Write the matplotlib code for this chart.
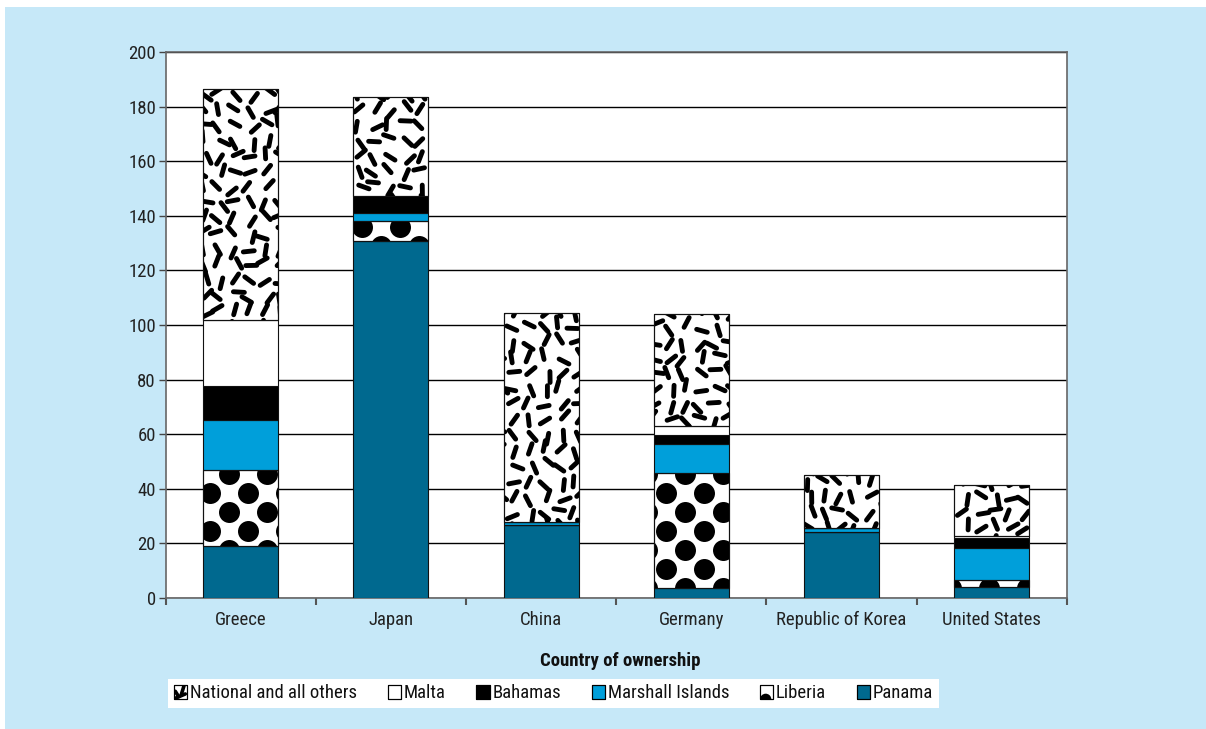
import numpy as np
import matplotlib
matplotlib.use('Agg')
import matplotlib.pyplot as plt
from matplotlib.patches import Rectangle, Circle, Patch
from matplotlib.collections import LineCollection
from matplotlib.legend_handler import HandlerBase
from matplotlib.transforms import Affine2D
from matplotlib.lines import Line2D

plt.rcParams['font.family'] = ['Roboto Condensed', 'Archivo Narrow', 'DejaVu Sans']

# ---------------- data ----------------
categories = ['Greece', 'Japan', 'China', 'Germany', 'Republic of Korea', 'United States']
panama = [18.8, 130.8, 26.8, 3.4, 24.1, 3.9]
liberia = [28.2, 7.5, 0.0, 42.4, 0.0, 2.7]
marshall = [18.0, 2.9, 1.0, 10.7, 1.3, 11.6]
bahamas = [12.8, 6.0, 0.0, 3.3, 0.0, 3.8]
malta = [24.2, 0.0, 0.0, 3.1, 0.0, 0.5]
others = [84.4, 36.5, 76.7, 41.1, 19.7, 18.9]
yticks = [0, 20, 40, 60, 80, 100, 120, 140, 160, 180, 200]
xlabel = 'Country of ownership'

series = [
    ('Panama', panama, '#00698f', None),
    ('Liberia', liberia, 'white', 'dots'),
    ('Marshall Islands', marshall, '#009fda', None),
    ('Bahamas', bahamas, 'black', None),
    ('Malta', malta, 'white', None),
    ('National and all others', others, 'white', 'dash'),
]
legend_order = ['National and all others', 'Malta', 'Bahamas', 'Marshall Islands', 'Liberia', 'Panama']

# ---------------- figure ----------------
W, H = 1206, 729
fig = plt.figure(figsize=(W / 100, H / 100), dpi=100)
fig.patch.set_facecolor('white')
fig.add_artist(Rectangle((5 / W, 0), 1 - 5 / W, 1 - 7 / H, transform=fig.transFigure,
                         facecolor='#c6e8f8', edgecolor='none', zorder=-10))

AX_L, AX_T, AX_R, AX_B = 165.7, 52.3, 1066.7, 597.7
AW, AH = AX_R - AX_L, AX_B - AX_T
ax = fig.add_axes([AX_L / W, (H - AX_B) / H, AW / W, AH / H])
ax.set_facecolor('white')
ax.set_xlim(-0.5, len(categories) - 0.5)
ax.set_ylim(0, 200)
tr = Affine2D().scale(1 / AW, 1 / AH) + ax.transAxes  # axes pixel coords


def hsh(a, b, c):
    v = np.sin(a * 12.9898 + b * 78.233 + c * 37.719) * 43758.5453
    return v - np.floor(v)


# dot lattice (pixel coords within axes)
dots = []
for j in range(-2, int(AH / 19) + 3):
    for i in range(-2, int(AW / 38) + 3):
        dots.append((25.3 + 38 * i + 19 * (j % 2), 9.7 + 19 * j))
dots = np.array(dots)

# dash field
segs = []
sp = 15.5
for j in range(-1, int(AH / sp) + 2):
    for i in range(-1, int(AW / sp) + 2):
        cx = (i + 0.2 + 0.6 * hsh(i, j, 1)) * sp
        cy = (j + 0.2 + 0.6 * hsh(i, j, 2)) * sp
        ang = np.pi * hsh(i, j, 3)
        L = 11.0
        dx, dy = 0.5 * L * np.cos(ang), 0.5 * L * np.sin(ang)
        segs.append(((cx - dx, cy - dy), (cx + dx, cy + dy)))
segs = np.array(segs)
centers = segs.mean(axis=1)

nx = len(categories)
x = np.arange(nx)
width = 0.5
bottom = np.zeros(nx)
for name, vals, col, tex in series:
    vals = np.array(vals, dtype=float)
    bars = ax.bar(x, vals, width, bottom=bottom, color=col, edgecolor='#111111',
                  linewidth=0.8, zorder=3)
    if tex is not None:
        for k, p in enumerate(bars.patches):
            if vals[k] <= 0:
                continue
            x0 = (p.get_x() + 0.5) / nx * AW
            x1 = (p.get_x() + p.get_width() + 0.5) / nx * AW
            y0 = p.get_y() / 200 * AH
            y1 = (p.get_y() + p.get_height()) / 200 * AH
            if tex == 'dots':
                m = ((dots[:, 0] > x0 - 12) & (dots[:, 0] < x1 + 12) &
                     (dots[:, 1] > y0 - 12) & (dots[:, 1] < y1 + 12))
                sc = ax.scatter(dots[m, 0], dots[m, 1], s=228, c='black', linewidths=0,
                                transform=tr, zorder=4)
                sc.set_clip_path(p)
            else:
                m = ((centers[:, 0] > x0 - 12) & (centers[:, 0] < x1 + 12) &
                     (centers[:, 1] > y0 - 12) & (centers[:, 1] < y1 + 12))
                lc = LineCollection(segs[m], colors='black', linewidths=3.5,
                                    capstyle='round', transform=tr, zorder=4)
                ax.add_collection(lc, autolim=False)
                lc.set_clip_path(p)
        ax.bar(x, vals, width, bottom=bottom, fill=False, edgecolor='#111111',
               linewidth=0.8, zorder=5)
    bottom = bottom + vals

ax.set_xlim(-0.5, nx - 0.5)
ax.set_ylim(0, 200)

# grid and axes styling
ax.set_yticks(yticks)
ax.yaxis.grid(True, color='black', linewidth=1.0, zorder=1)
ax.set_axisbelow(True)
ax.tick_params(axis='y', direction='out', length=5, width=1, color='#444444',
               labelsize=13.5, pad=2, labelcolor='#222222')
ax.set_xticks(x)
ax.set_xticklabels(categories)
ax.tick_params(axis='x', which='major', length=0, labelsize=13.5, pad=9.5, labelcolor='#222222')
ax.set_xticks(np.arange(nx + 1) - 0.5, minor=True)
ax.tick_params(axis='x', which='minor', direction='out', length=5, width=1.5, color='#555555')
for s in ax.spines.values():
    s.set_color('#666666')
    s.set_linewidth(1.2)

fig.text(620 / W, 1 - 661 / H, xlabel, ha='center', va='center', fontsize=13.5,
         fontweight='bold', color='#111111')


# ---------------- legend ----------------
class SwatchHandler(HandlerBase):
    def __init__(self, face, kind=None):
        super().__init__()
        self.face = face
        self.kind = kind

    def create_artists(self, legend, orig_handle, xdescent, ydescent, width, height,
                       fontsize, trans):
        s = height
        x0, y0 = -xdescent, -ydescent
        rect = Rectangle((x0, y0), s, s, facecolor=self.face, edgecolor='black',
                         linewidth=0.8, transform=trans)
        arts = [rect]
        if self.kind == 'dots':
            c = Circle((x0 + 0.45 * s, y0 - 0.05 * s), 0.42 * s, facecolor='black',
                       edgecolor='none', transform=trans)
            c.set_clip_path(rect)
            arts.append(c)
        elif self.kind == 'dash':
            for (a, b), (cc, d) in [((0.15, 0.05), (0.85, 0.35)), ((0.55, 0.3), (0.75, 0.95)),
                                      ((0.1, 0.55), (0.35, 0.15))]:
                ln = Line2D([x0 + a * s, x0 + cc * s], [y0 + b * s, y0 + d * s], color='black',
                            linewidth=2.6, solid_capstyle='round', transform=trans)
                ln.set_clip_path(rect)
                arts.append(ln)
        rect2 = Rectangle((x0, y0), s, s, facecolor='none', edgecolor='black',
                          linewidth=0.8, transform=trans)
        arts.append(rect2)
        return arts


style = {name: (col, tex) for name, vals, col, tex in series}
handles, hmap = [], {}
for name in legend_order:
    col, tex = style[name]
    h = Patch(facecolor=col, label=name)
    handles.append(h)
    hmap[h] = SwatchHandler(col, tex)

leg = fig.legend(handles=handles, labels=legend_order, handler_map=hmap, loc='center',
                 bbox_to_anchor=(553.5 / W, 1 - 693.5 / H), ncol=6, frameon=True,
                 fancybox=False, edgecolor='none', facecolor='white', framealpha=1,
                 borderpad=0.3, handlelength=0.72, handleheight=0.72, handletextpad=0.15,
                 columnspacing=1.62, fontsize=13.5, borderaxespad=0)
for t in leg.get_texts():
    t.set_color('#111111')

fig.savefig('out.png', dpi=100, facecolor=fig.get_facecolor())
